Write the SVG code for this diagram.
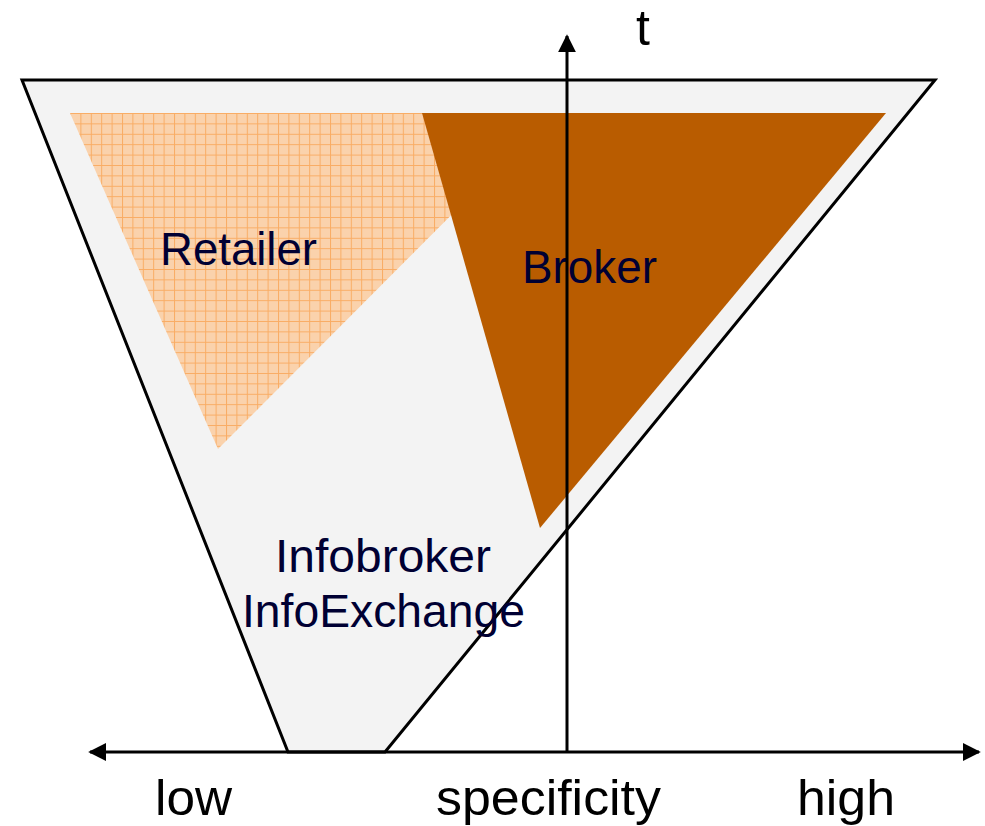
<svg xmlns="http://www.w3.org/2000/svg" width="985" height="826" viewBox="0 0 985 826">
  <defs>
    <pattern id="grid" patternUnits="userSpaceOnUse" width="10.4" height="10.4" x="70" y="113">
      <rect width="10.4" height="10.4" fill="#FAD2AC"/>
      <path d="M0 0.5 H10.4 M0.5 0 V10.4" stroke="#F9AC64" stroke-width="1"/>
    </pattern>
    <marker id="arrow" viewBox="0 0 10 10" refX="9" refY="5" markerWidth="6" markerHeight="6" markerUnits="strokeWidth" orient="auto-start-reverse">
      <path d="M0 0 L10 5 L0 10 z" fill="#000"/>
    </marker>
    <style>
      .label { font-family: "Liberation Sans", Arial, sans-serif; font-size: 46px; fill: #000033; }
      .axis-label { font-family: "Liberation Sans", Arial, sans-serif; font-size: 50px; fill: #000; }
      .axis { stroke: #000; stroke-width: 3; fill: none; }
    </style>
  </defs>

  <rect width="985" height="826" fill="#fff"/>

  <!-- market funnel -->
  <g id="funnel">
    <polygon points="22,80 935,80 385,752 288,752" fill="#F3F3F3" stroke="#000" stroke-width="3" stroke-linejoin="miter"/>
  </g>

  <g id="retailer">
    <polygon points="70,113 553,113 218,449" fill="url(#grid)"/>
    <text class="label" x="160" y="265" textLength="157" lengthAdjust="spacingAndGlyphs">Retailer</text>
  </g>

  <g id="broker">
    <polygon points="422,113 886,113 540,528" fill="#B95C00"/>
    <text class="label" x="522" y="283" textLength="135" lengthAdjust="spacingAndGlyphs">Broker</text>
  </g>

  <g id="infobroker">
    <text class="label" x="275" y="572" textLength="216" lengthAdjust="spacingAndGlyphs">Infobroker</text>
    <text class="label" x="242" y="627" textLength="283" lengthAdjust="spacingAndGlyphs">InfoExchange</text>
  </g>

  <!-- axes -->
  <g id="connectors">
    <line class="axis" x1="567" y1="752" x2="567" y2="36" marker-end="url(#arrow)"/>
    <line class="axis" x1="90" y1="752" x2="979" y2="752" marker-start="url(#arrow)" marker-end="url(#arrow)"/>
  </g>

  <g id="axis-labels">
    <text class="axis-label" x="636" y="45">t</text>
    <text class="axis-label" x="155" y="815" textLength="77" lengthAdjust="spacingAndGlyphs">low</text>
    <text class="axis-label" x="436" y="815" textLength="225" lengthAdjust="spacingAndGlyphs">specificity</text>
    <text class="axis-label" x="797" y="815" textLength="98" lengthAdjust="spacingAndGlyphs">high</text>
  </g>
</svg>
